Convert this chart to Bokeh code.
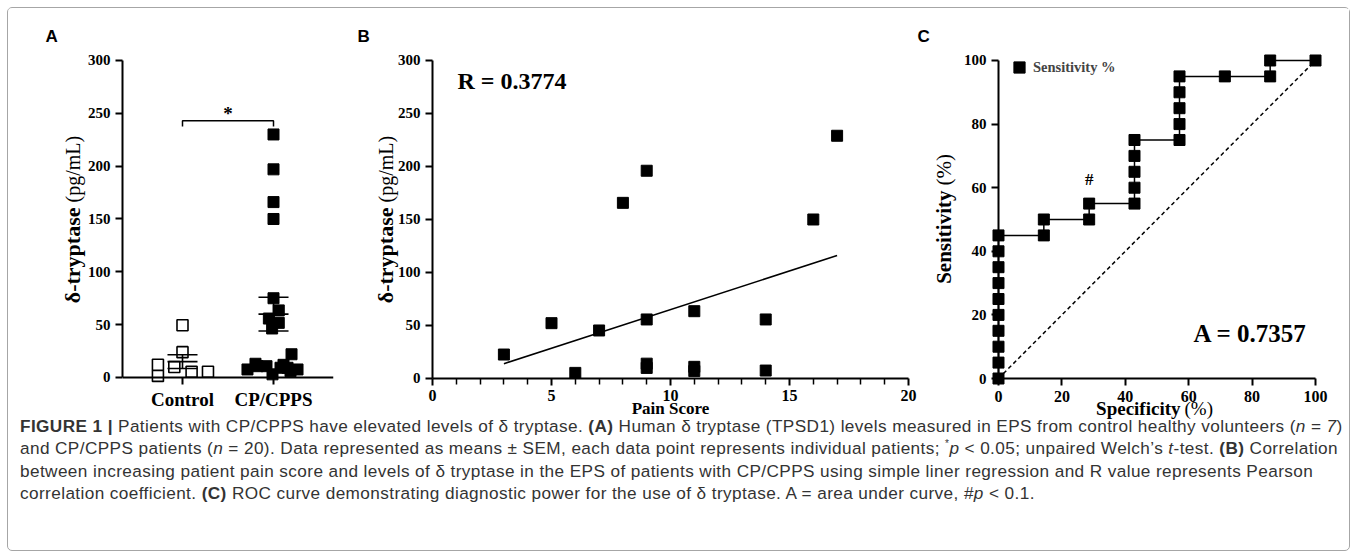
import math
from bokeh.plotting import figure
from bokeh.models import Range1d, FixedTicker, Label, Legend, LegendItem, Div
from bokeh.layouts import row, column
from bokeh.embed import file_html
from bokeh.resources import INLINE

# ---------------- data: panel A ----------------
groups = ["Control", "CP/CPPS"]
group_pos = [1, 2]
control_values = [1.5, 12, 10, 49.5, 24, 5.5, 5.5]
control_jitter = [-0.27, -0.27, -0.09, 0.0, 0.0, 0.10, 0.28]
cp_values = [230, 197, 166, 150, 75, 63.5, 55.8, 51.7, 46.4, 22,
             7.6, 13, 10.7, 10.7, 3, 9.2, 12, 9.2, 6, 7.6]
cp_jitter = [0, 0, 0, 0, 0, 0.058, -0.051, 0.058, -0.015, 0.198,
             -0.286, -0.198, -0.176, -0.077, -0.011, 0.077, 0.11, 0.154, 0.187, 0.264]
group_mean = [15, 60]
group_sem = [6.5, 16]
bracket_x = [1, 1, 2, 2]
bracket_y = [237.5, 243, 243, 237.5]
tryptase_ticks = [0, 50, 100, 150, 200, 250, 300]

# ---------------- data: panel B ----------------
pain_score = [3, 5, 6, 7, 8, 9, 9, 9, 9, 11, 11, 11, 14, 14, 16, 17]
pain_tryptase = [22.6, 52.2, 5.3, 45.3, 165.7, 196, 55.7, 14, 10, 63.5, 11, 7, 55.7, 7.5, 150, 229]
fit_x = [3, 17]
fit_y = [14, 116]
pain_ticks = [0, 5, 10, 15, 20]
pain_minor = [1, 2, 3, 4, 6, 7, 8, 9, 11, 12, 13, 14, 16, 17, 18, 19]

# ---------------- data: panel C ----------------
specificity = [0, 0, 0, 0, 0, 0, 0, 0, 0, 0,
               14.3, 14.3, 28.6, 28.6, 42.9, 42.9, 42.9, 42.9, 42.9,
               57.1, 57.1, 57.1, 57.1, 57.1, 71.4, 85.7, 85.7, 100]
sensitivity = [0, 5, 10, 15, 20, 25, 30, 35, 40, 45,
               45, 50, 50, 55, 55, 60, 65, 70, 75,
               75, 80, 85, 90, 95, 95, 95, 100, 100]
chance_x = [0, 100]
chance_y = [0, 100]
pct_ticks = [0, 20, 40, 60, 80, 100]

caption_lines = [
    "<b>FIGURE 1 |</b> Patients with CP/CPPS have elevated levels of &delta; tryptase. <b>(A)</b> Human &delta; tryptase (TPSD1) levels measured in EPS from control healthy volunteers (<i>n</i> = <i>7</i>)",
    "and CP/CPPS patients (<i>n</i> = 20). Data represented as means &plusmn; SEM, each data point represents individual patients; <sup style=\"line-height:0;font-size:10px\">*</sup><i>p</i> &lt; 0.05; unpaired Welch&rsquo;s <i>t</i>-test. <b>(B)</b> Correlation",
    "between increasing patient pain score and levels of &delta; tryptase in the EPS of patients with CP/CPPS using simple liner regression and R value represents Pearson",
    "correlation coefficient. <b>(C)</b> ROC curve demonstrating diagnostic power for the use of &delta; tryptase. A = area under curve, #<i>p</i> &lt; 0.1.",
]

SERIF = "Liberation Serif"
SANS = "Liberation Sans"
FIG_H = 450
TOP, BOTTOM = 42, 48   # shared frame borders (frames span page y 50..410)


def base_fig(width, xr, yr, bl, br):
    p = figure(width=width, height=FIG_H, x_range=Range1d(*xr), y_range=Range1d(*yr),
               output_backend="svg", toolbar_location=None,
               min_border_left=bl, min_border_right=br, min_border_top=TOP, min_border_bottom=BOTTOM)
    p.grid.visible = False
    p.outline_line_color = None
    p.background_fill_color = "white"
    p.border_fill_color = "white"
    return p


def style_axis(ax, size):
    ax.axis_line_width = 2
    ax.axis_line_color = "black"
    ax.major_tick_line_width = 2
    ax.major_tick_line_color = "black"
    ax.major_tick_out = 7
    ax.major_tick_in = 0
    ax.minor_tick_line_color = None
    ax.major_label_text_font = SERIF
    ax.major_label_text_font_style = "bold"
    ax.major_label_text_font_size = size
    ax.major_label_text_color = "black"
    ax.major_label_standoff = 5


def lab(p, x, y, text, size, style="bold", font=SERIF, align="left", baseline="middle", angle=0.0):
    p.add_layout(Label(x=x, y=y, text=text, text_font=font, text_font_size=size,
                       text_font_style=style, text_align=align, text_baseline=baseline,
                       angle=angle, text_color="black"))


# ---------------- panel A ----------------
pA = base_fig(332, (0.3407, 2.6593), (-31.23, 309.46), 114, 7)
pA.xaxis.ticker = FixedTicker(ticks=group_pos)
pA.xaxis.major_label_overrides = {group_pos[i]: groups[i] for i in range(len(groups))}
pA.yaxis.ticker = FixedTicker(ticks=tryptase_ticks)
style_axis(pA.xaxis[0], "19px")
style_axis(pA.yaxis[0], "15px")
pA.xaxis.fixed_location = 0
pA.yaxis.bounds = (0, 300)

pA.scatter(x=[group_pos[0] + j for j in control_jitter], y=control_values, marker="square",
           size=11, fill_color="white", line_color="black", line_width=1.6)
pA.scatter(x=[group_pos[1] + j for j in cp_jitter], y=cp_values, marker="square",
           size=11, fill_color="black", line_color="black")
half = 0.165
upper = [m + s for m, s in zip(group_mean, group_sem)]
lower = [m - s for m, s in zip(group_mean, group_sem)]
for yy in (group_mean, upper, lower):
    pA.segment(x0=[g - half for g in group_pos], y0=yy, x1=[g + half for g in group_pos], y1=yy,
               line_color="black", line_width=1.6)
pA.segment(x0=group_pos, y0=lower, x1=group_pos, y1=upper, line_color="black", line_width=1.6)
pA.line(x=bracket_x, y=bracket_y, line_color="black", line_width=1.5)
lab(pA, 1.5, 250, "*", "19px", align="center", baseline="alphabetic")

# ---------------- panel B ----------------
pB = base_fig(583, (-2.185, 20.504), (-30.19, 309.43), 40, 3)
pB.xaxis.ticker = FixedTicker(ticks=pain_ticks, minor_ticks=pain_minor)
pB.yaxis.ticker = FixedTicker(ticks=tryptase_ticks)
style_axis(pB.xaxis[0], "16px")
style_axis(pB.yaxis[0], "15px")
pB.xaxis.minor_tick_line_color = "black"
pB.xaxis.minor_tick_line_width = 1.5
pB.xaxis.minor_tick_out = 6
pB.xaxis.minor_tick_in = 0
pB.xaxis.fixed_location = 0
pB.yaxis.fixed_location = 0
pB.xaxis.bounds = (0, 20)
pB.yaxis.bounds = (0, 300)

pB.line(x=fit_x, y=fit_y, line_color="black", line_width=1.6)
pB.scatter(x=pain_score, y=pain_tryptase, marker="square", size=11, fill_color="black", line_color="black")
lab(pB, 1.05, 281, "R = 0.3774", "24px")

# ---------------- panel C ----------------
pC = base_fig(426, (-11.356, 104.73), (-10.06, 103.14), 39, 19)
pC.xaxis.ticker = FixedTicker(ticks=pct_ticks)
pC.yaxis.ticker = FixedTicker(ticks=pct_ticks)
style_axis(pC.xaxis[0], "16px")
style_axis(pC.yaxis[0], "15px")
pC.xaxis.fixed_location = 0
pC.yaxis.fixed_location = 0
pC.xaxis.bounds = (0, 100)
pC.yaxis.bounds = (0, 100)

pC.line(x=chance_x, y=chance_y, line_color="black", line_width=1.5, line_dash="4 3")
pC.line(x=specificity, y=sensitivity, line_color="black", line_width=1.5)
roc_pts = pC.scatter(x=specificity, y=sensitivity, marker="square", size=11,
                     fill_color="black", line_color="black")
legend = Legend(items=[LegendItem(label="Sensitivity %", renderers=[roc_pts])],
                location=(43, 329), glyph_width=28, glyph_height=28, label_standoff=0,
                padding=0, margin=0, spacing=0, border_line_color=None,
                background_fill_alpha=0, label_text_font=SERIF,
                label_text_font_style="bold", label_text_font_size="14.5px")
pC.add_layout(legend)
lab(pC, 28.6, 62.6, "#", "17px", align="center")
lab(pC, 61.5, 14.2, "A = 0.7357", "25px")

# ---------------- overlay for texts outside the plot frames ----------------
OV_W, OV_H = 1341, 542
ov = figure(width=OV_W, height=OV_H, x_range=Range1d(0, OV_W), y_range=Range1d(OV_H, 0),
            x_axis_type=None, y_axis_type=None, output_backend="svg", toolbar_location=None,
            min_border=0, margin=(-FIG_H, 0, 0, 0))
ov.background_fill_alpha = 0
ov.border_fill_alpha = 0
ov.outline_line_color = None

lab(ov, 37, 28, "A", "17px", font=SANS)
lab(ov, 349, 28, "B", "17px", font=SANS)
lab(ov, 909, 28, "C", "17px", font=SANS)
for xc in (64, 377):
    lab(ov, xc, 199, "\u03b4-tryptase", "22px", align="right", angle=math.pi / 2)
    lab(ov, xc, 194, "(pg/mL)", "20px", style="normal", align="left", angle=math.pi / 2)
lab(ov, 935, 182, "Sensitivity", "21px", align="right", angle=math.pi / 2)
lab(ov, 935, 177, "(%)", "21px", style="normal", align="left", angle=math.pi / 2)
lab(ov, 662, 400, "Pain Score", "17px", align="center")
lab(ov, 1172, 400, "Specificity", "19px", align="right")
lab(ov, 1176, 400, "(%)", "19px", style="normal", align="left")

# ---------------- caption ----------------
CAP_TOP = 415 - 8
caption_html = ('<div style="font-family:\'Liberation Sans\',Arial,sans-serif;font-size:17.2px;'
                'letter-spacing:0.4px;line-height:22.3px;color:#333;white-space:nowrap;'
                'padding-left:12px;">' + "<br>".join(caption_lines) + '</div>')
cap = Div(text=caption_html, width=OV_W, height=OV_H - CAP_TOP, margin=(-(OV_H - CAP_TOP), 0, 0, 0))

lay = column(row(pA, pB, pC), ov, cap, margin=(8, 8, 8, 8),
             styles={"outline": "1px solid #a6a6a6", "border-radius": "4px"})

open("out.html", "w").write(file_html(lay, INLINE, "Figure 1"))
